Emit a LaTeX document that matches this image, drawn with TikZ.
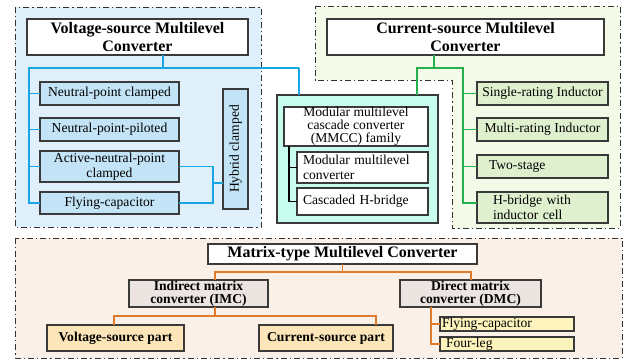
\documentclass[tikz,border=0pt]{standalone}
\usepackage{fontspec}
\usepackage{graphicx}
\setmainfont{Liberation Serif}

\definecolor{regline}{HTML}{333333}
\definecolor{boxline}{HTML}{3A3A3A}
\definecolor{bluereg}{HTML}{DFF0FB}
\definecolor{bluebox}{HTML}{C3E4F6}
\definecolor{blueln}{HTML}{18A5E6}
\definecolor{mmccfill}{HTML}{C8FCEE}
\definecolor{greenreg}{HTML}{F3FAE8}
\definecolor{greenbox}{HTML}{DFF0CE}
\definecolor{greenln}{HTML}{22B14C}
\definecolor{peachreg}{HTML}{FBF0E8}
\definecolor{greybox}{HTML}{ECE4E0}
\definecolor{orangebox}{HTML}{FCE5B8}
\definecolor{yellowbox}{HTML}{FDF4BD}
\definecolor{orangeln}{HTML}{E07A2C}

\newcommand\normtext{\fontsize{13.6}{14.5}\selectfont}
\newcommand\tighttext{\fontsize{13.6}{13}\selectfont}
\newcommand\ttltext{\fontsize{16}{18}\selectfont\bfseries}
\newcommand\subttl{\fontsize{13.6}{13.5}\selectfont\bfseries}

% box from corner (x1,y1) to (x2,y2): name, x1, y1, x2, y2, style, text
\newcommand\bx[7]{\node[#6,minimum width={#4-#2},minimum height={#5-#3}] (#1) at ({(#2+#4)/2},{(#3+#5)/2}) {#7};}

\begin{document}
\begin{tikzpicture}[x=1pt,y=-1pt,
  base/.style={draw=boxline,line width=1.1pt,inner sep=0pt,outer sep=0pt,align=center,font=\normtext},
  ttl/.style={base,fill=white,font=\ttltext},
  bbox/.style={base,fill=bluebox},
  wbox/.style={base,fill=white},
  mmccbox/.style={base,fill=mmccfill},
  gbox/.style={base,fill=greenbox},
  ibox/.style={base,fill=greybox,font=\subttl},
  obox/.style={base,fill=orangebox,font=\subttl},
  ybox/.style={base,fill=yellowbox},
  region/.style={draw=regline,line width=0.9pt,dash pattern=on 6pt off 3pt on 1.3pt off 3pt},
  bl/.style={draw=blueln,line width=1.4pt},
  gl/.style={draw=greenln,line width=1.4pt},
  ol/.style={draw=orangeln,line width=1.4pt},
  kl/.style={draw=black,line width=1.1pt}]
\useasboundingbox (0,0) rectangle (624,361);

% group backgrounds
\path[region,fill=bluereg] (15,7) rectangle (261,227);
\path[region,fill=greenreg] (315,6) -- (620,6) -- (620,228) -- (452,228) -- (452,80) -- (315,80) -- cycle;
\path[region,fill=peachreg] (15,238) rectangle (622,358);

% voltage-source group
\bx{vs}{27}{19}{248}{55}{ttl}{Voltage-source Multilevel\\Converter}
\bx{npc}{40}{82}{179}{105}{bbox}{Neutral-point clamped}
\bx{npp}{40}{118}{179}{141}{bbox}{Neutral-point-piloted}
\bx{anpc}{40}{151}{179}{182}{bbox}{Active-neutral-point\\clamped}
\bx{fcap}{40}{192}{179}{214}{bbox}{Flying-capacitor}
\bx{hyb}{223}{89}{248}{209}{bbox}{\rotatebox{90}{Hybrid clamped}}

% modular multilevel cascade family
\bx{mmcc}{277}{95}{438}{223}{mmccbox}{}
\bx{mmct}{284}{107}{428}{146}{wbox,font=\tighttext}{Modular multilevel\\cascade converter\\(MMCC) family}
\bx{mmc}{297}{152}{428}{183}{wbox,align=left,text width=119pt,inner xsep=6pt}{Modular multilevel\\converter}
\bx{chb}{297}{188}{428}{215}{wbox,align=left,text width=119pt,inner xsep=6pt}{Cascaded H-bridge}

% current-source group
\bx{cs}{327}{19}{604}{55}{ttl}{Current-source Multilevel\\Converter}
\bx{sri}{477}{82}{608}{105}{gbox}{Single-rating Inductor}
\bx{mri}{477}{118}{608}{141}{gbox}{Multi-rating Inductor}
\bx{tws}{477}{155}{608}{178}{gbox,align=left,text width=107pt,inner xsep=12pt}{Two-stage}
\bx{hbi}{477}{192}{608}{223}{gbox,align=left,text width=99pt,inner xsep=16pt}{H-bridge with\\inductor cell}

% matrix-type group
\bx{mt}{208}{244}{477}{264}{ttl}{Matrix-type Multilevel Converter}
\bx{imc}{129}{280}{268}{307}{ibox}{Indirect matrix\\converter (IMC)}
\bx{dmc}{400}{280}{541}{307}{ibox}{Direct matrix\\converter (DMC)}
\bx{vsp}{47}{325}{184}{351}{obox}{Voltage-source part}
\bx{csp}{259}{325}{393}{351}{obox}{Current-source part}
\bx{fcd}{440}{317}{574}{331}{ybox,align=left,text width=130pt,inner xsep=2pt}{Flying-capacitor}
\bx{flg}{440}{337}{574}{351}{ybox,align=left,text width=122pt,inner xsep=6pt}{Four-leg}

% blue connectors
\coordinate (vj) at (163,68);
\coordinate (bL) at (29,68);
\coordinate (bR) at (299,68);
\coordinate (hj) at (213,183);
\draw[bl] (vs.south -| vj) -- (vj);
\draw[bl] (bR) -- (bL) |- (fcap.west);
\draw[bl] (bR) -- (mmcc.north -| bR);
\draw[bl] (bL |- npc.west) -- (npc.west);
\draw[bl] (bL |- npp.west) -- (npp.west);
\draw[bl] (bL |- anpc.west) -- (anpc.west);
\draw[bl] (anpc.east) -| (hj |- fcap.east) -- (fcap.east);
\draw[bl] (hj) -- (hj -| hyb.west);

% green connectors
\coordinate (gj) at (434,68);
\coordinate (gL) at (417,68);
\coordinate (gR) at (463,68);
\coordinate (gB) at (463,203);
\draw[gl] (cs.south -| gj) -- (gj);
\draw[gl] (mmcc.north -| gL) -- (gL) -- (gR) -- (gB) -- (gB -| hbi.west);
\draw[gl] (gR |- sri.west) -- (sri.west);
\draw[gl] (gR |- mri.west) -- (mri.west);
\draw[gl] (gR |- tws.west) -- (tws.west);

% black connectors inside the MMCC box
\coordinate (kj) at (289,146);
\draw[kl] (kj) |- (chb.west);
\draw[kl] (kj |- mmc.west) -- (mmc.west);

% orange connectors
\coordinate (oT) at (341,272);
\coordinate (oL) at (215,272);
\coordinate (oR) at (471,272);
\coordinate (iT) at (215,316);
\coordinate (iL) at (114,316);
\coordinate (iR) at (376,316);
\coordinate (dj) at (431,307);
\draw[ol] (mt.south) -- (mt.south |- oT);
\draw[ol] (imc.north -| oL) -- (oL) -- (oR) -- (dmc.north -| oR);
\draw[ol] (imc.south -| iT) -- (iT);
\draw[ol] (vsp.north -| iL) -- (iL) -- (iR) -- (csp.north -| iR);
\draw[ol] (dj) |- (flg.west);
\draw[ol] (dj |- fcd.west) -- (fcd.west);
\end{tikzpicture}
\end{document}
